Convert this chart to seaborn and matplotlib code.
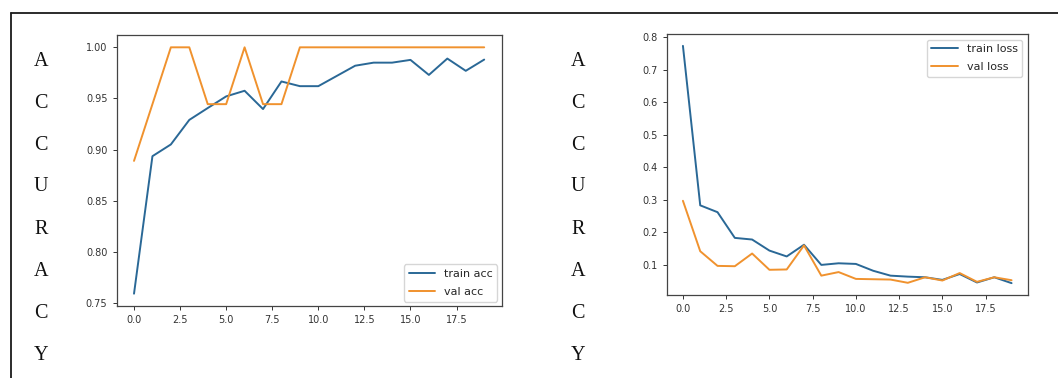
import numpy as np
import pandas as pd
import matplotlib
matplotlib.use("Agg")
import matplotlib.pyplot as plt
from matplotlib.lines import Line2D
import seaborn as sns

# Training history (20 epochs)
epochs = list(range(20))
train_acc = [0.759, 0.8935, 0.905, 0.929, 0.9406, 0.952, 0.9575, 0.9396, 0.9666, 0.962,
             0.962, 0.972, 0.982, 0.985, 0.985, 0.9877, 0.973, 0.989, 0.977, 0.988]
val_acc = [0.8889, 0.9444, 1.0, 1.0, 0.9444, 0.9444, 1.0, 0.9444, 0.9444, 1.0,
           1.0, 1.0, 1.0, 1.0, 1.0, 1.0, 1.0, 1.0, 1.0, 1.0]
train_loss = [0.773, 0.283, 0.262, 0.183, 0.178, 0.144, 0.126, 0.162, 0.100, 0.105,
              0.103, 0.082, 0.067, 0.064, 0.062, 0.054, 0.072, 0.046, 0.062, 0.044]
val_loss = [0.297, 0.142, 0.097, 0.096, 0.135, 0.085, 0.086, 0.160, 0.067, 0.078,
            0.057, 0.056, 0.055, 0.045, 0.062, 0.052, 0.075, 0.048, 0.062, 0.053]
side_label = "ACCURACY"

sns.set_style("ticks")
plt.rcParams["font.family"] = ["DejaVu Sans"]

W, H = 1058, 378
fig = plt.figure(figsize=(W / 100, H / 100), dpi=100)
fig.patch.set_facecolor("white")

blue = "#2a6896"
orange = "#f0922e"

def px_axes(left, right, top, bottom):
    return fig.add_axes([left / W, 1 - bottom / H, (right - left) / W, (bottom - top) / H])

ax1 = px_axes(116.5, 501.7, 35, 306)
ax2 = px_axes(666.5, 1028, 34, 295)

acc_df = pd.DataFrame({"epoch": epochs, "train acc": train_acc, "val acc": val_acc})
loss_df = pd.DataFrame({"epoch": epochs, "train loss": train_loss, "val loss": val_loss})

sns.lineplot(data=acc_df, x="epoch", y="train acc", ax=ax1, color=blue, lw=1.4, label="train acc")
sns.lineplot(data=acc_df, x="epoch", y="val acc", ax=ax1, color=orange, lw=1.4, label="val acc")
sns.lineplot(data=loss_df, x="epoch", y="train loss", ax=ax2, color=blue, lw=1.4, label="train loss")
sns.lineplot(data=loss_df, x="epoch", y="val loss", ax=ax2, color=orange, lw=1.4, label="val loss")

for ax in (ax1, ax2):
    ax.set_xlabel("")
    ax.set_ylabel("")
    ax.set_xticks([0, 2.5, 5, 7.5, 10, 12.5, 15, 17.5])
    ax.set_xticklabels(["0.0", "2.5", "5.0", "7.5", "10.0", "12.5", "15.0", "17.5"])
    ax.tick_params(labelsize=7, length=3, width=0.7, color="#333333", labelcolor="#333333")
    for s in ax.spines.values():
        s.set_color("#444444")
        s.set_linewidth(0.9)

ax1.set_yticks([0.75, 0.80, 0.85, 0.90, 0.95, 1.00])
ax1.set_yticklabels(["0.75", "0.80", "0.85", "0.90", "0.95", "1.00"])
ax2.set_yticks([0.1, 0.2, 0.3, 0.4, 0.5, 0.6, 0.7, 0.8])
ax2.set_yticklabels(["0.1", "0.2", "0.3", "0.4", "0.5", "0.6", "0.7", "0.8"])

legend_kw = dict(fontsize=8, handlelength=2.4, labelspacing=0.75, frameon=True)
ax1.legend(loc="lower right", borderaxespad=0.4, **legend_kw)
ax2.legend(loc="upper right", borderaxespad=0.5, **legend_kw)

# Page border around the panel
fig.add_artist(Line2D([11 / W, 1], [1 - 13 / H, 1 - 13 / H], transform=fig.transFigure,
                      color="#1a1a1a", lw=1.3))
fig.add_artist(Line2D([11 / W, 11 / W], [0, 1 - 13 / H], transform=fig.transFigure,
                      color="#1a1a1a", lw=1.3))

# Vertical side captions
for x_px in (41, 578):
    for i, ch in enumerate(side_label):
        y_px = 61 + i * 42
        fig.text(x_px / W, 1 - y_px / H, ch, ha="center", va="center",
                 family="Liberation Serif", fontsize=14.5, color="#111111")

fig.savefig("out.png", dpi=100, facecolor="white")
